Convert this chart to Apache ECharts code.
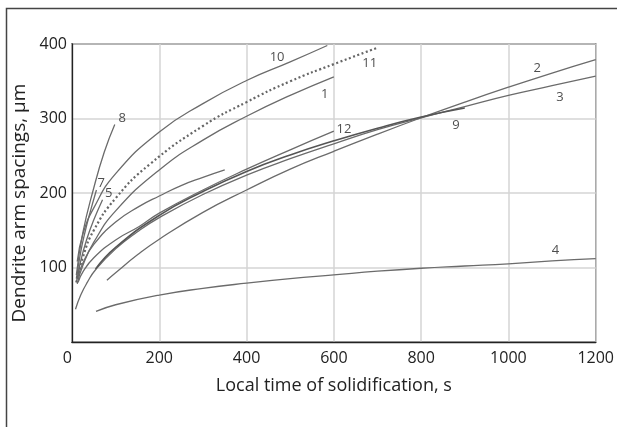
<!DOCTYPE html>
<html>
<head>
<meta charset="utf-8">
<script src="https://cdn.jsdelivr.net/npm/echarts@6/dist/echarts.min.js"></script>
<style>
  html,body{margin:0;padding:0;background:#fff;}
  #main{width:617px;height:427px;}
</style>
</head>
<body>
<div id="main"></div>
<script>
// curves, [time s, spacing um]
var curve1 = [[12,78],[25,103],[50,134],[100,176],[200,231],[300,271],[400,303],[500,331],[600,356]];
var curve2 = [[80,83],[100,93],[150,117],[200,138],[300,174],[400,204],[500,232],[600,256],[700,279],[800,301],[900,322],[1000,342],[1100,361],[1200,379]];
var curve3 = [[8,44],[20,63],[35,80],[54,97],[100,125],[150,148],[200,167],[300,198],[400,224],[500,246],[600,266],[700,285],[800,301],[900,316],[1000,331],[1100,344],[1200,357]];
var curve4 = [[55,41],[100,50],[200,63],[300,72],[400,79],[500,85],[600,90],[700,95],[800,99],[900,102],[1000,105],[1100,109],[1200,112]];
var curve5 = [[10,80],[20,109],[35,140],[50,164],[70,191]];
var curve6 = [[12,84],[25,106],[50,131],[100,161],[154,182],[200,196],[250,210],[300,221],[350,231]];
var curve7 = [[10,85],[20,121],[30,148],[40,171],[56,204]];
var curve8 = [[10,90],[25,147],[50,207],[74,255],[98,292]];
var curve9 = [[54,98],[100,127],[200,170],[300,202],[400,229],[500,251],[600,270],[700,287],[800,302],[900,314]];
var curve10 = [[12,108],[25,145],[50,180],[100,226],[200,282],[300,320],[400,351],[500,376],[585,398]];
var curve11 = [[10,80],[25,114],[50,150],[100,193],[177,238],[300,290],[400,322],[500,350],[600,373],[700,395]];
var curve12 = [[14,80],[25,94],[50,113],[100,137],[154,155],[200,173],[300,204],[400,232],[500,258],[600,283]];

// curve numbers and where they sit
var labelNames = ['8','7','5','10','11','1','12','9','2','3','4'];
var labelPos = [[115,300],[67,213],[84,200],[470,382],[682,374],[579,332],[623,286],[880,291],[1066,367],[1118,329],[1108,123]];

var xTicks = [0,200,400,600,800,1000,1200];
var yTicks = [100,200,300,400];

var chart = echarts.init(document.getElementById('main'), null, {renderer:'canvas'});
var font = 'Open Sans';
var lineCol = '#6b6b6b';

function curve(name, data, opt){
  var s = {
    name: name, type: 'line', data: data, smooth: true, symbol: 'none',
    lineStyle: {color: lineCol, width: 1.3}, z: 3
  };
  if (opt) s.lineStyle = Object.assign(s.lineStyle, opt);
  return s;
}

var labelData = labelNames.map(function(n,i){ return {name:n, value:labelPos[i]}; });

var option = {
  animation: false,
  backgroundColor: '#fff',
  grid: {left: 72, right: 20, top: 44, bottom: 85, show: true, borderColor: '#222', borderWidth: 1.3},
  xAxis: {
    type: 'value', min: 0, max: 1200, interval: 200,
    name: 'Local time of solidification, s', nameLocation: 'middle', nameGap: 35,
    nameTextStyle: {fontFamily: font, fontSize: 18, color: '#222'},
    axisLine: {show: true, lineStyle: {color: '#222', width: 1.3}},
    axisTick: {show: false},
    axisLabel: {fontFamily: font, fontSize: 16, color: '#222', margin: 8, alignMinLabel: 'right',
      formatter: function(v){ return xTicks.indexOf(v) >= 0 ? String(v) : ''; }},
    splitLine: {show: true, lineStyle: {color: '#d4d4d4', width: 1.5}}
  },
  yAxis: {
    type: 'value', min: 0, max: 400, interval: 100,
    name: 'Dendrite arm spacings, \u00b5m', nameLocation: 'middle', nameGap: 31,
    nameTextStyle: {fontFamily: font, fontSize: 19, color: '#222', padding: [0, 20, 0, 0]},
    axisLine: {show: true, lineStyle: {color: '#222', width: 1.3}},
    axisTick: {show: false},
    axisLabel: {fontFamily: font, fontSize: 16, color: '#222', margin: 5,
      formatter: function(v){ return yTicks.indexOf(v) >= 0 ? String(v) : ''; }},
    splitLine: {show: true, lineStyle: {color: '#d4d4d4', width: 1.5}}
  },
  graphic: [{
    type: 'rect', left: 4, top: 6, silent: true,
    shape: {width: 700, height: 500},
    style: {fill: null, stroke: '#444', lineWidth: 1.5}
  }],
  series: [
    curve('1', curve1),
    curve('2', curve2),
    curve('3', curve3),
    curve('4', curve4),
    curve('5', curve5),
    curve('6', curve6),
    curve('7', curve7),
    curve('8', curve8),
    curve('9', curve9, {width: 1.6, color: '#555'}),
    curve('10', curve10),
    curve('11', curve11, {type: [2, 2.5], width: 2.2, color: '#666'}),
    curve('12', curve12),
    {
      name: 'labels', type: 'scatter', data: labelData, symbolSize: 0, z: 5,
      label: {show: true, position: 'inside', formatter: '{b}', fontFamily: font, fontSize: 13, color: '#222'}
    }
  ]
};
chart.setOption(option);
</script>
</body>
</html>
